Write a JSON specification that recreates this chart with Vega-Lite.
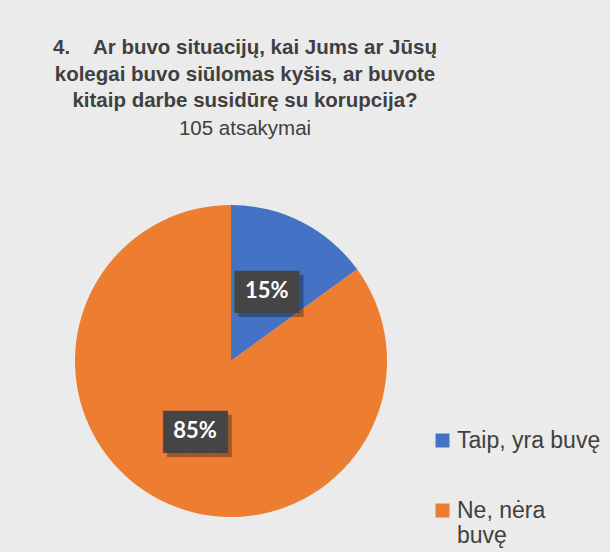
{
  "$schema": "https://vega.github.io/schema/vega-lite/v6.json",
  "autosize": {"type": "none"},
  "width": 462,
  "height": 382,
  "padding": {"top": 170, "left": 0, "right": 148, "bottom": 0},
  "background": "#ebebeb",
  "title": {
    "text": ["4.\u00a0\u00a0\u00a0\u00a0Ar buvo situacijų, kai Jums ar Jūsų", "kolegai buvo siūlomas kyšis, ar buvote", "kitaip darbe susidūrę su korupcija?"],
    "subtitle": "105 atsakymai",
    "anchor": "middle",
    "frame": "group",
    "dx": 14,
    "offset": 31,
    "font": "Liberation Sans",
    "fontSize": 20.5,
    "fontWeight": "bold",
    "color": "#404040",
    "lineHeight": 26.5,
    "subtitleFont": "Liberation Sans",
    "subtitleFontSize": 20.5,
    "subtitleFontWeight": "normal",
    "subtitleColor": "#404040",
    "subtitlePadding": 7
  },
  "data": {
    "values": [
      {"answer": "Taip, yra buvę", "share": 0.15},
      {"answer": "Ne, nėra buvę", "share": 0.85}
    ]
  },
  "encoding": {
    "theta": {"field": "share", "type": "quantitative", "stack": true},
    "order": {"field": "share", "type": "quantitative", "sort": "ascending"}
  },
  "layer": [
    {
      "mark": {"type": "arc", "outerRadius": 156},
      "encoding": {
        "color": {
          "field": "answer",
          "type": "nominal",
          "scale": {"domain": ["Taip, yra buvę", "Ne, nėra buvę"], "range": ["#4472C4", "#ED7D31"]},
          "legend": {
            "title": null,
            "orient": "none",
            "legendX": 431,
            "legendY": 259,
            "symbolType": "square",
            "symbolSize": 196,
            "symbolStrokeWidth": 0,
            "labelFont": "Liberation Sans",
            "labelFontSize": 23,
            "labelColor": "#404040",
            "labelOffset": 3,
            "labelLimit": 300,
            "rowPadding": 46,
            "labelExpr": "datum.label == 'Ne, nėra buvę' ? ['\u00a0Ne, nėra', 'buvę'] : datum.label"
          }
        }
      }
    },
    {
      "mark": {"type": "text", "radius": 79, "text": "███", "font": "DejaVu Sans Mono", "fontSize": 35.5, "color": "#000000", "opacity": 0.3, "dx": 4, "dy": 6},
      "encoding": {"detail": {"field": "answer", "type": "nominal"}}
    },
    {
      "mark": {"type": "text", "radius": 79, "text": "███", "font": "DejaVu Sans Mono", "fontSize": 35.5, "color": "#454545", "dy": 2},
      "encoding": {"detail": {"field": "answer", "type": "nominal"}}
    },
    {
      "mark": {"type": "text", "radius": 79, "font": "Lato", "fontWeight": "bold", "fontSize": 22, "color": "#ffffff"},
      "encoding": {
        "detail": {"field": "answer", "type": "nominal"},
        "text": {"field": "share", "type": "quantitative", "format": ".0%"}
      }
    }
  ]
}
